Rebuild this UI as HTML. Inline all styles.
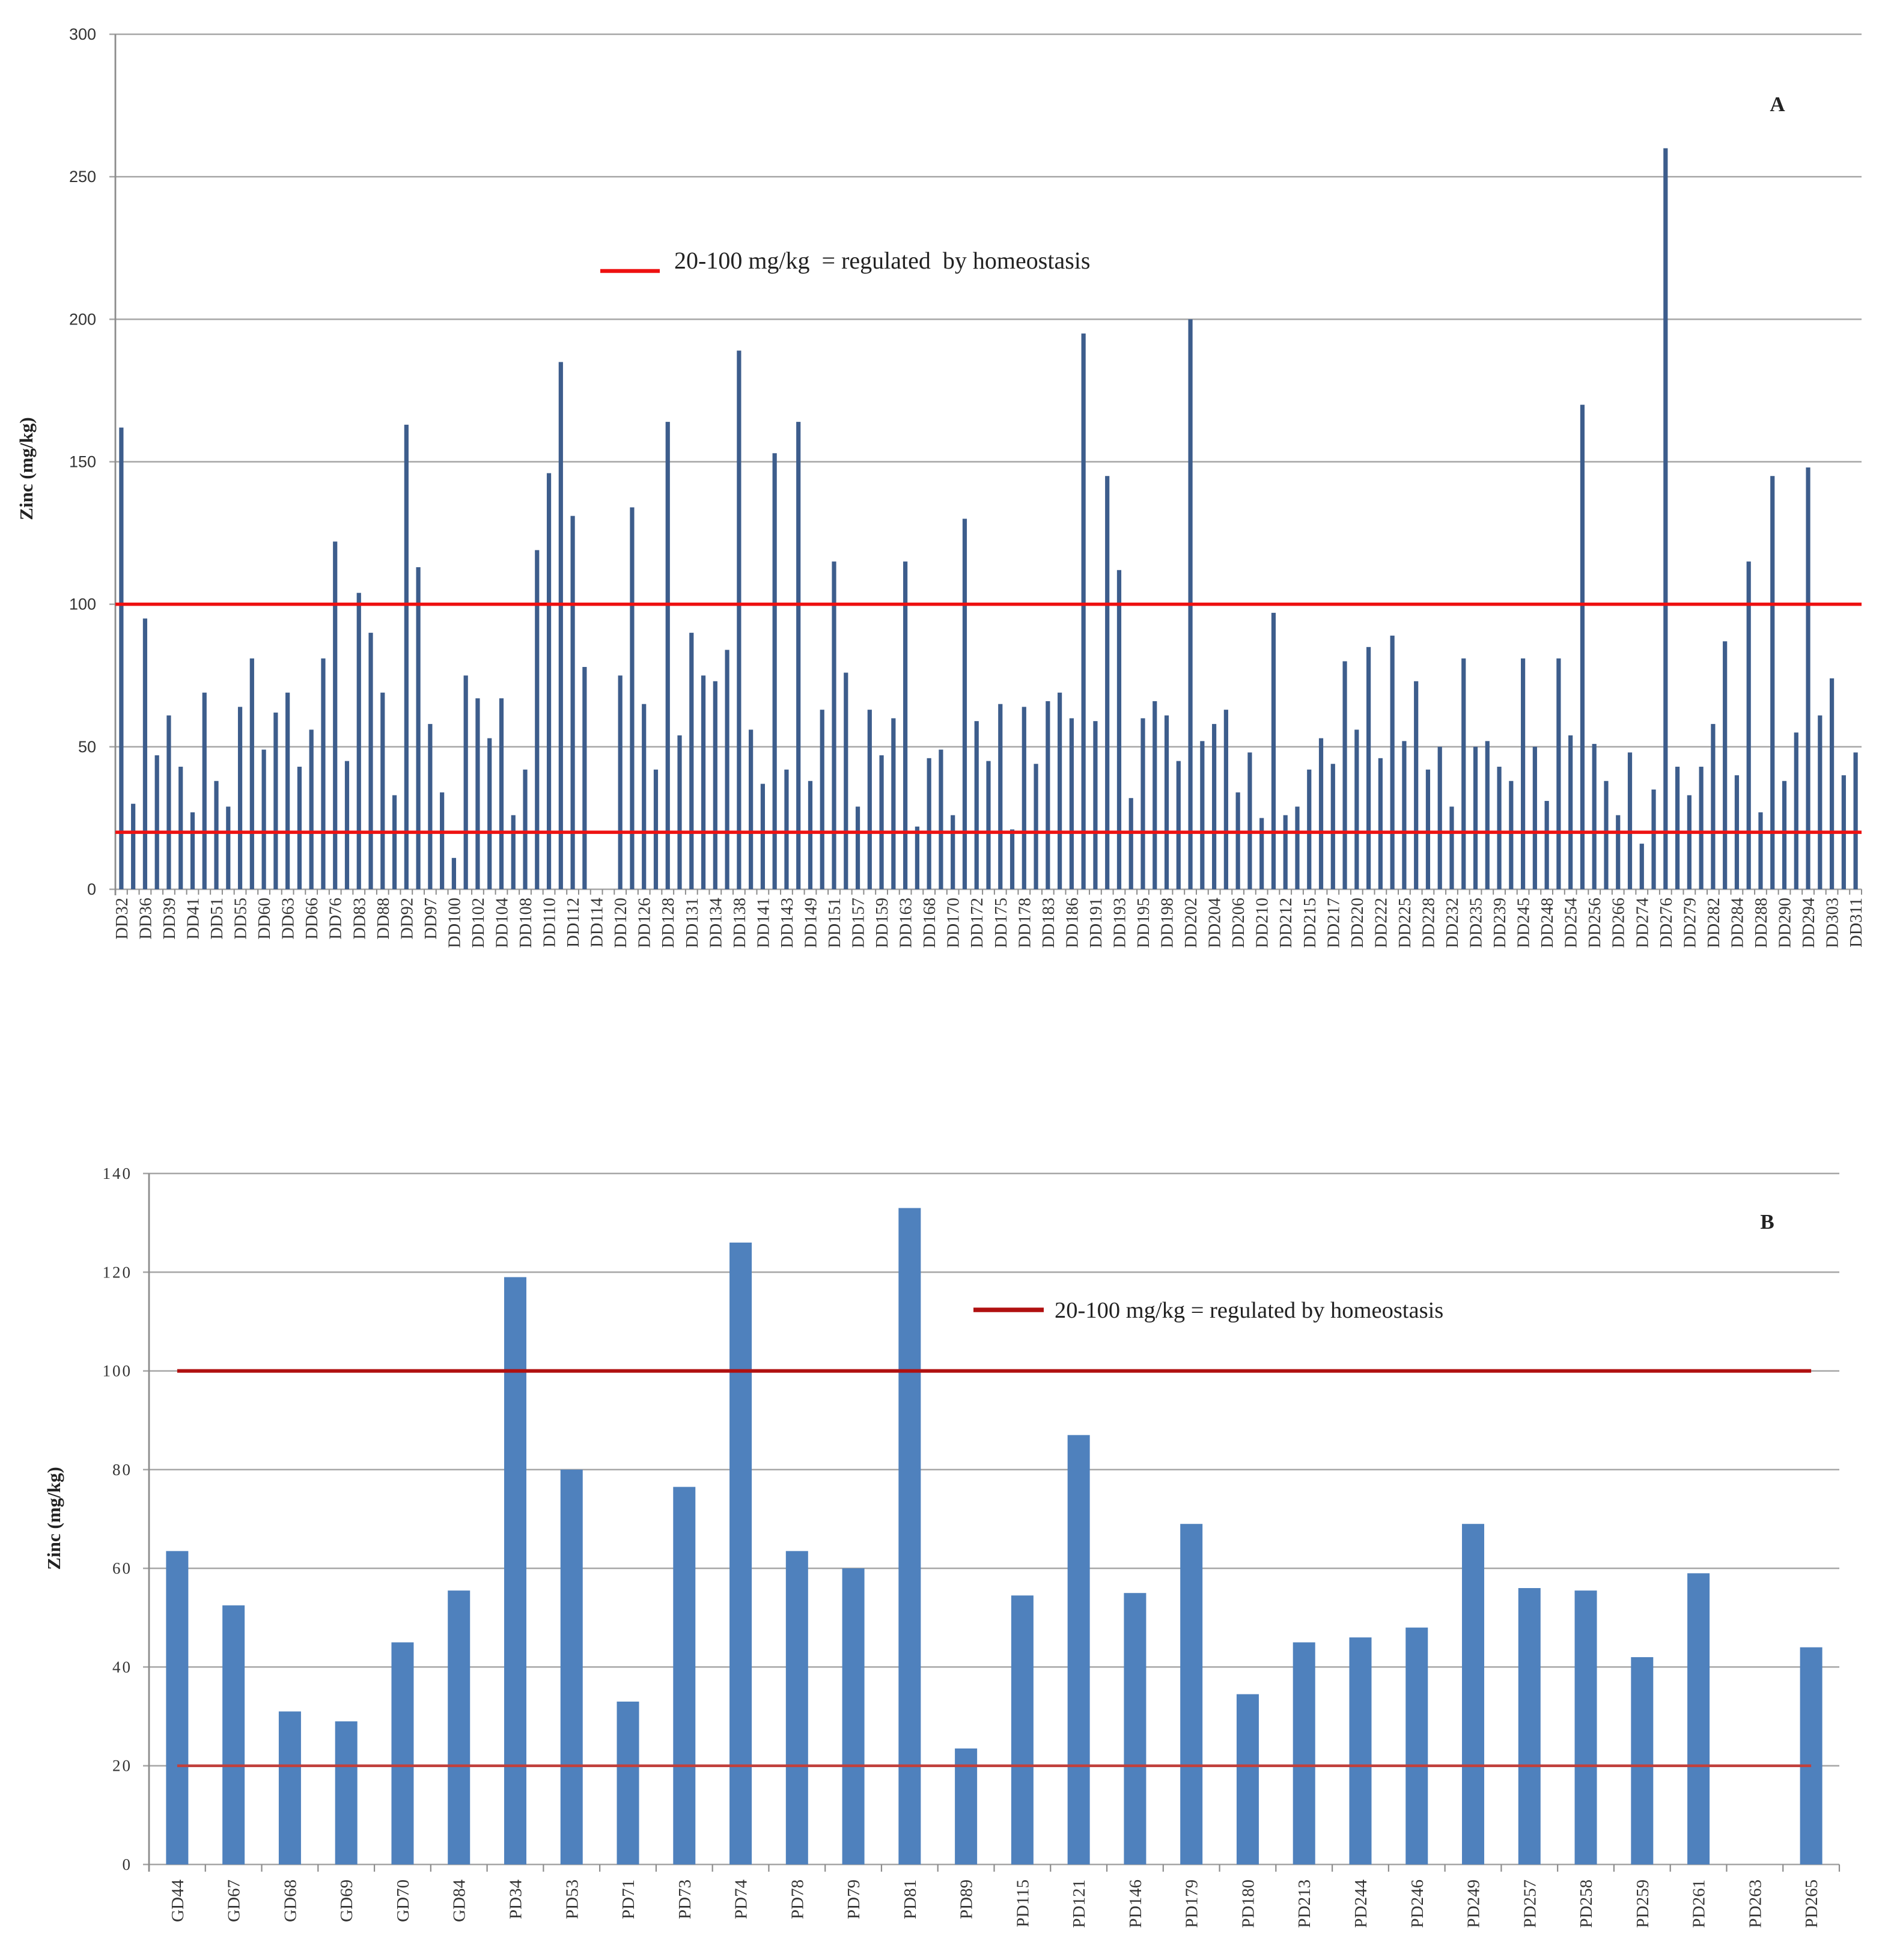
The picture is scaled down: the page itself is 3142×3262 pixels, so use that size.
<!DOCTYPE html>
<html><head><meta charset="utf-8"><style>
html,body{margin:0;padding:0;background:#fff}
svg{display:block}
text{white-space:pre}
</style></head><body>
<svg id="chart" width="3142" height="3262" viewBox="0 0 3142 3262" xmlns="http://www.w3.org/2000/svg"></svg>
<script>
const catsA = ["DD32","","DD36","","DD39","","DD41","","DD51","","DD55","","DD60","","DD63","","DD66","","DD76","","DD83","","DD88","","DD92","","DD97","","DD100","","DD102","","DD104","","DD108","","DD110","","DD112","","DD114","","DD120","","DD126","","DD128","","DD131","","DD134","","DD138","","DD141","","DD143","","DD149","","DD151","","DD157","","DD159","","DD163","","DD168","","DD170","","DD172","","DD175","","DD178","","DD183","","DD186","","DD191","","DD193","","DD195","","DD198","","DD202","","DD204","","DD206","","DD210","","DD212","","DD215","","DD217","","DD220","","DD222","","DD225","","DD228","","DD232","","DD235","","DD239","","DD245","","DD248","","DD254","","DD256","","DD266","","DD274","","DD276","","DD279","","DD282","","DD284","","DD288","","DD290","","DD294","","DD303","","DD311"];
const valuesA = [162,30,95,47,61,43,27,69,38,29,64,81,49,62,69,43,56,81,122,45,104,90,69,33,163,113,58,34,11,75,67,53,67,26,42,119,146,185,131,78,0,0,75,134,65,42,164,54,90,75,73,84,189,56,37,153,42,164,38,63,115,76,29,63,47,60,115,22,46,49,26,130,59,45,65,21,64,44,66,69,60,195,59,145,112,32,60,66,61,45,200,52,58,63,34,48,25,97,26,29,42,53,44,80,56,85,46,89,52,73,42,50,29,81,50,52,43,38,81,50,31,81,54,170,51,38,26,48,16,35,260,43,33,43,58,87,40,115,27,145,38,55,148,61,74,40,48];
const ticksA = [0,50,100,150,200,250,300];
const catsB = ["GD44","GD67","GD68","GD69","GD70","GD84","PD34","PD53","PD71","PD73","PD74","PD78","PD79","PD81","PD89","PD115","PD121","PD146","PD179","PD180","PD213","PD244","PD246","PD249","PD257","PD258","PD259","PD261","PD263","PD265"];
const valuesB = [63.5,52.5,31,29,45,55.5,119,80,33,76.5,126,63.5,60,133,23.5,54.5,87,55,69,34.5,45,46,48,69,56,55.5,42,59,0,44];
const ticksB = [0,20,40,60,80,100,120,140];
const limitsA = [20,100];
const limitsB = [20,100];

const svg = document.getElementById('chart');
const NS = 'http://www.w3.org/2000/svg';
function mk(tag, attrs, parent, text){
  const e = document.createElementNS(NS, tag);
  for (const k in attrs) e.setAttribute(k, attrs[k]);
  if (text !== undefined) e.textContent = text;
  parent.appendChild(e);
  return e;
}

// ---------- Chart A ----------
(function(){
  const L=192,R=3098,T=57,B=1480,max=300;
  const g = mk('g',{},svg);
  
  
  const y = v => B - (v/max)*(B-T);
  const step = (R-L)/catsA.length;
  const x = i => L + step*(i+0.5);
  ticksA.forEach(t=>{
    const ln = mk('line',{x1:L-10,x2:R,y1:y(t),y2:y(t),stroke:'#a6a6a6','stroke-width':2.5},g);
    
    
    const tx = mk('text',{x:L-32,y:y(t)+9,'text-anchor':'end','font-family':'Liberation Sans, sans-serif','font-size':27,fill:'#333'},g,String(t));
    
    
  });
  const ax = mk('line',{x1:L,x2:L,y1:T,y2:B+10,stroke:'#8c8c8c','stroke-width':2.8},g);
  
  
  for(let i=0;i<=catsA.length;i++){
    const tk = mk('line',{x1:L+step*i,x2:L+step*i,y1:B,y2:B+9,stroke:'#8c8c8c','stroke-width':2},g);
    
    
  }
  valuesA.forEach((v,i)=>{
    const r = mk('rect',{x:x(i)-3.6,y:y(v),width:7.2,height:B-y(v),fill:'#3d5d8c'},g);
    
    
  });
  catsA.forEach((c,i)=>{
    if(!c) return;
    const t = mk('text',{transform:`translate(${x(i)+10},${B+14}) rotate(-90)`,'text-anchor':'end','font-family':'Liberation Serif, serif','font-size':28.5,fill:'#333'},g,c);
    
    
  });
  limitsA.forEach(v=>{
    const l = mk('line',{x1:L,x2:R,y1:y(v),y2:y(v),stroke:'#ee1111','stroke-width':5.5},g);
    
    
  });
  const lg = mk('line',{x1:999,x2:1098,y1:451,y2:451,stroke:'#ee1111','stroke-width':6.5},g);
  
  
  const lt = mk('text',{x:1122,y:447,'font-family':'Liberation Serif, serif','font-size':40,fill:'#222'},g,'20-100 mg/kg  = regulated  by homeostasis');
  
  
  const pa = mk('text',{x:2958,y:185,'text-anchor':'middle','font-family':'Liberation Serif, serif','font-size':35,'font-weight':'bold',fill:'#222'},g,'A');
  
  
  const yt = mk('text',{transform:'translate(54,780) rotate(-90)','text-anchor':'middle','font-family':'Liberation Serif, serif','font-size':31,'font-weight':'bold',fill:'#222'},g,'Zinc (mg/kg)');
  
  
})();

// ---------- Chart B ----------
(function(){
  const L=248,R=3061,T=1953,B=3103,max=140;
  const g = mk('g',{},svg);
  
  
  const y = v => B - (v/max)*(B-T);
  const step = (R-L)/catsB.length;
  const x = i => L + step*(i+0.5);
  ticksB.forEach(t=>{
    const ln = mk('line',{x1:L-10,x2:R,y1:y(t),y2:y(t),stroke:'#a6a6a6','stroke-width':2.5},g);
    
    
    const tx = mk('text',{x:L-28,y:y(t)+9,'text-anchor':'end','font-family':'Liberation Serif, serif','font-size':27,'letter-spacing':3,fill:'#333'},g,String(t));
    
    
  });
  const ax = mk('line',{x1:L,x2:L,y1:T,y2:B+12,stroke:'#8c8c8c','stroke-width':2.8},g);
  
  
  for(let i=0;i<=catsB.length;i++){
    const tk = mk('line',{x1:L+step*i,x2:L+step*i,y1:B,y2:B+12,stroke:'#8c8c8c','stroke-width':2.2},g);
    
    
  }
  valuesB.forEach((v,i)=>{
    const r = mk('rect',{x:x(i)-18.5,y:y(v),width:37,height:B-y(v),fill:'#4f81bd'},g);
    
    
  });
  catsB.forEach((c,i)=>{
    const t = mk('text',{transform:`translate(${x(i)+10},${B+25}) rotate(-90)`,'text-anchor':'end','font-family':'Liberation Serif, serif','font-size':29,fill:'#333'},g,c);
    
    
  });
  const l1 = mk('line',{x1:x(0),x2:x(catsB.length-1),y1:y(limitsB[1]),y2:y(limitsB[1]),stroke:'#b01010','stroke-width':6},g);
  
  
  const l2 = mk('line',{x1:x(0),x2:x(catsB.length-1),y1:y(limitsB[0]),y2:y(limitsB[0]),stroke:'#c0403c','stroke-width':4.5},g);
  
  
  const lg = mk('line',{x1:1620,x2:1737,y1:2180,y2:2180,stroke:'#b01010','stroke-width':7.5},g);
  
  
  const lt = mk('text',{x:1755,y:2193,'font-family':'Liberation Serif, serif','font-size':38.5,fill:'#222'},g,'20-100 mg/kg = regulated by homeostasis');
  
  
  const pb = mk('text',{x:2941,y:2045,'text-anchor':'middle','font-family':'Liberation Serif, serif','font-size':35,'font-weight':'bold',fill:'#222'},g,'B');
  
  
  const yt = mk('text',{transform:'translate(100,2527) rotate(-90)','text-anchor':'middle','font-family':'Liberation Serif, serif','font-size':31,'font-weight':'bold',fill:'#222'},g,'Zinc (mg/kg)');
  
  
})();
</script>
</body></html>
